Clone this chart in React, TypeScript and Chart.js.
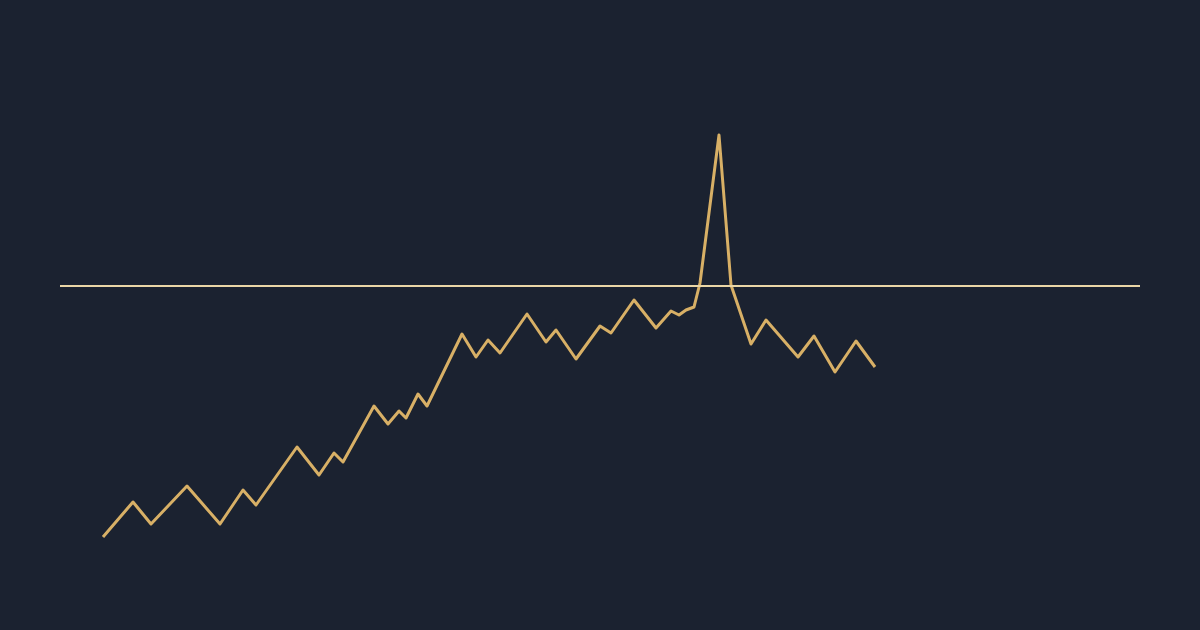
import React, { useEffect, useRef } from "react";
import { Chart, registerables } from "chart.js";

Chart.register(...registerables);

// x positions (time units) and values of the gold series
const seriesX = [43, 73, 91, 127, 160, 183, 196, 237, 259, 274, 283, 314, 328, 339, 346, 358, 367, 402, 416, 428, 440, 467, 486, 496, 516, 540, 551, 574, 596, 611, 619, 626, 634, 640, 659, 671, 691, 706, 738, 754, 775, 796, 815];
const seriesY = [93, 128, 106, 144, 106, 140, 125, 183, 155, 177, 168, 224, 206, 219, 212, 236, 224, 296, 273, 290, 277, 316, 288, 300, 271, 304, 297, 330, 302, 319, 315, 320, 323, 347, 495, 345, 286, 310, 273, 294, 258, 289, 263];
const thresholdValue = 344;
const xMin = 0;
const xMax = 1080;
const yMin = 0;
const yMax = 630;

const BG = "#1b2230";
const GOLD = "#d8b066";
const CREAM = "#ead6a6";

export default function App() {
  const ref = useRef<HTMLCanvasElement | null>(null);

  useEffect(() => {
    document.body.style.margin = "0";
    document.body.style.background = BG;
    const ctx = ref.current!.getContext("2d")!;
    const chart = new Chart(ctx, {
      type: "scatter",
      data: {
        datasets: [
          {
            data: [
              { x: xMin, y: thresholdValue },
              { x: xMax, y: thresholdValue },
            ],
            showLine: true,
            borderColor: CREAM,
            borderWidth: 2,
            pointRadius: 0,
            tension: 0,
          },
          {
            data: seriesX.map((x, i) => ({ x, y: seriesY[i] })),
            showLine: true,
            borderColor: GOLD,
            borderWidth: 3,
            borderJoinStyle: "round",
            pointRadius: 0,
            tension: 0,
          },
        ],
      },
      options: {
        animation: false,
        responsive: false,
        layout: { padding: { left: 60, right: 60, top: 0, bottom: 0 } },
        plugins: { legend: { display: false }, tooltip: { enabled: false } },
        scales: {
          x: { type: "linear", min: xMin, max: xMax, display: false },
          y: { type: "linear", min: yMin, max: yMax, display: false },
        },
      },
    });
    return () => chart.destroy();
  }, []);

  return (
    <div style={{ width: 1200, height: 630, background: BG }}>
      <canvas ref={ref} width={1200} height={630} />
    </div>
  );
}
